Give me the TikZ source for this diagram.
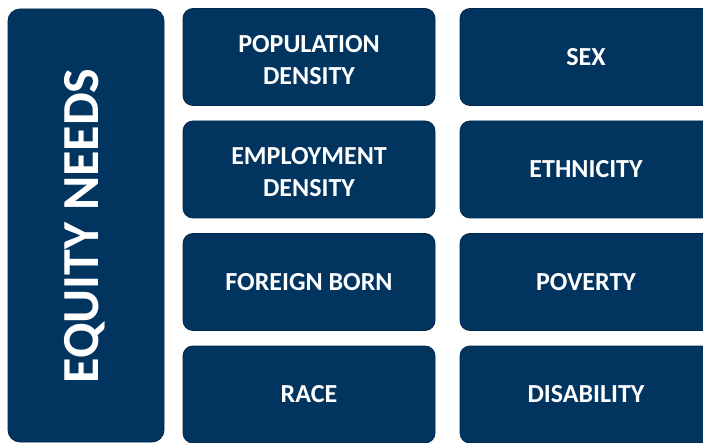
\documentclass[tikz,border=0pt]{standalone}
\usepackage{fontspec}
\setmainfont{Carlito}
\definecolor{navy}{RGB}{1,53,96}
\definecolor{navyedge}{RGB}{0,38,72}
\begin{document}
\begin{tikzpicture}[x=1pt,y=-1pt,
  tile/.style={draw=navyedge, line width=0.8pt, fill=navy, rounded corners=10pt,
    minimum width=252pt, minimum height=97pt, inner sep=0pt},
  tiletext/.style={text=white, align=center,
    font=\bfseries\fontsize{26}{32}\selectfont, inner sep=0pt},
  bigtile/.style={draw=navyedge, line width=0.8pt, fill=navy, rounded corners=12pt,
    minimum width=156pt, minimum height=433pt, inner sep=0pt}]
\useasboundingbox (0,0) rectangle (703,443);
\node[bigtile] (eq) at (86,225.5) {};
\node[rotate=90, text=white, font=\bfseries\fontsize{52}{60}\selectfont, inner sep=0pt] (eqt) at (85,226) {EQUITY NEEDS};
% column 1
\node[tile] (p1) at (309,57) {};
\node[tiletext] (p1t) at (309,60) {POPULATION\\DENSITY};
\node[tile] (p2) at (309,169.5) {};
\node[tiletext] (p2t) at (309,172.5) {EMPLOYMENT\\DENSITY};
\node[tile] (p3) at (309,282) {};
\node[tiletext] (p3t) at (309,282) {FOREIGN BORN};
\node[tile] (p4) at (309,394.5) {};
\node[tiletext] (p4t) at (309,394.5) {RACE};
% column 2
\node[tile] (q1) at (586,57) {};
\node[tiletext] (q1t) at (586,57) {SEX};
\node[tile] (q2) at (586,169.5) {};
\node[tiletext] (q2t) at (586,169.5) {ETHNICITY};
\node[tile] (q3) at (586,282) {};
\node[tiletext] (q3t) at (586,282) {POVERTY};
\node[tile] (q4) at (586,394.5) {};
\node[tiletext] (q4t) at (586,394.5) {DISABILITY};
\end{tikzpicture}
\end{document}
